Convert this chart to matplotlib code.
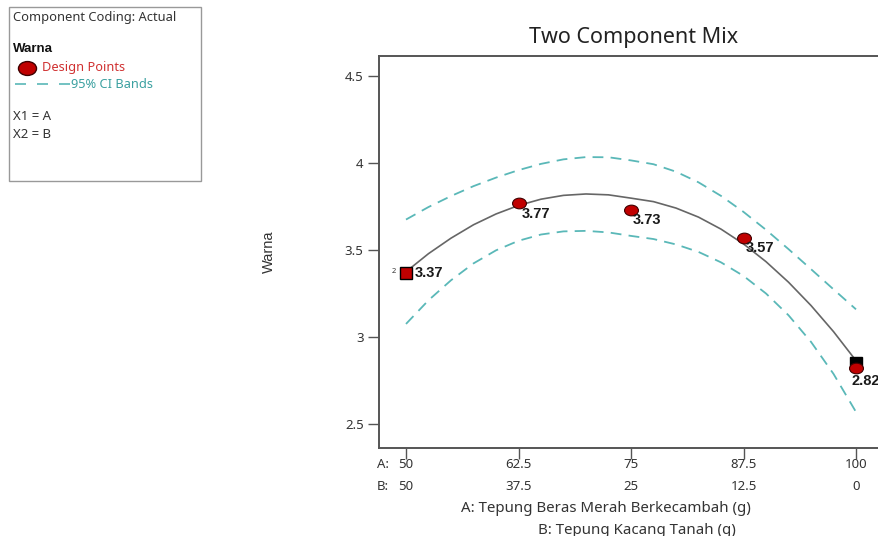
import numpy as np
import matplotlib
matplotlib.use("Agg")
import matplotlib.pyplot as plt
from matplotlib.path import Path
from matplotlib.transforms import Affine2D, blended_transform_factory
from matplotlib.patches import Rectangle

plt.rcParams['font.family'] = ['Noto Sans', 'DejaVu Sans']

# design points (A = Tepung Beras Merah Berkecambah, g)
pts_a = [50, 62.5, 75, 87.5, 100]
pts_y = [3.37, 3.77, 3.73, 3.57, 2.82]
pts_lbl = ["3.37", "3.77", "3.73", "3.57", "2.82"]
pred_100 = 2.852

# fitted curve and 95% CI bands, A = 50..100 step 2.5
curve_a = [50, 52.5, 55, 57.5, 60, 62.5, 65, 67.5, 70, 72.5, 75,
           77.5, 80, 82.5, 85, 87.5, 90, 92.5, 95, 97.5, 100]
fit_y = [3.375, 3.479, 3.568, 3.645, 3.707, 3.756, 3.792, 3.814, 3.822, 3.817, 3.798,
         3.778, 3.741, 3.689, 3.620, 3.535, 3.433, 3.315, 3.181, 3.031, 2.864]
ci_hi = [3.675, 3.747, 3.810, 3.867, 3.916, 3.959, 3.995, 4.021, 4.034, 4.033, 4.015,
         3.993, 3.950, 3.889, 3.811, 3.719, 3.616, 3.505, 3.390, 3.274, 3.159]
ci_lo = [3.075, 3.211, 3.326, 3.423, 3.498, 3.553, 3.589, 3.607, 3.610, 3.601, 3.581,
         3.563, 3.532, 3.489, 3.429, 3.351, 3.250, 3.125, 2.972, 2.788, 2.569]

tick_a = [50, 62.5, 75, 87.5, 100]
tick_b = [50, 37.5, 25, 12.5, 0]
yticks = [2.5, 3, 3.5, 4, 4.5]

red = "#c00000"
teal = "#5ab8b8"
txt = "#333333"

ellipse = Path.unit_circle().transformed(Affine2D().scale(1.3, 1.0))

fig = plt.figure(figsize=(8.79, 5.36), dpi=100)
ax = fig.add_axes([379/879, 88/536, 511/879, 392/536])
ax.set_xlim(47, 47 + 511/9)
ax.set_ylim(2.362, 4.615)

ax.plot(curve_a, fit_y, color="#666666", lw=1.2, zorder=2)
ax.plot(curve_a, ci_hi, color=teal, lw=1.3, ls=(0, (6, 4)), zorder=2)
ax.plot(curve_a, ci_lo, color=teal, lw=1.3, ls=(0, (6, 4)), zorder=2)

ax.plot([100], [pred_100], marker="s", color="black", ms=8, ls="none", zorder=3)
ax.plot([50], [pts_y[0]], marker="s", mfc=red, mec="black", mew=1, ms=8, ls="none", zorder=4)
ax.plot(pts_a[1:], pts_y[1:], marker=ellipse, mfc=red, mec="#400000", mew=0.8, ms=10,
        ls="none", zorder=4)

offsets = [(6.5, 0), (2, -8), (1, -7.5), (1.5, -7.5), (-3.5, -9)]
for a, y, s, off in zip(pts_a, pts_y, pts_lbl, offsets):
    ax.annotate(s, (a, y), xytext=off, textcoords="offset points", ha="left", va="center",
                fontsize=10.5, fontweight="bold", color="#1a1a1a",
                family=["Liberation Sans", "DejaVu Sans"], zorder=5)
ax.annotate("2", (50, pts_y[0]), xytext=(-9, 0.5), textcoords="offset points",
            ha="center", va="center", fontsize=5.5, color=txt)

for side in ["top", "left", "bottom"]:
    ax.spines[side].set_color("#555555")
    ax.spines[side].set_linewidth(1.4)
ax.spines["right"].set_visible(False)

ax.set_yticks(yticks)
ax.set_yticklabels(["2.5", "3", "3.5", "4", "4.5"])
ax.tick_params(axis="y", length=8, width=1, color="#555555", labelsize=9.5, labelcolor=txt, pad=3)
ax.set_xticks(tick_a)
ax.set_xticklabels([])
ax.tick_params(axis="x", length=8, width=1, color="#555555")

tr = blended_transform_factory(ax.transData, fig.transFigure)
for a, b in zip(tick_a, tick_b):
    ax.text(a, 1 - 465/536, f"{a:g}", transform=tr, ha="center", va="center",
            fontsize=9.5, color=txt)
    ax.text(a, 1 - 487/536, f"{b:g}", transform=tr, ha="center", va="center",
            fontsize=9.5, color=txt)
fig.text(377/879, 1 - 465/536, "A:", ha="left", va="center", fontsize=9.5, color=txt)
fig.text(377/879, 1 - 487/536, "B:", ha="left", va="center", fontsize=9.5, color=txt)

fig.text(606/879, 1 - 508/536, "A: Tepung Beras Merah Berkecambah (g)", ha="center",
         va="center", fontsize=10.8, color=txt)
fig.text(637/879, 1 - 530/536, "B: Tepung Kacang Tanah (g)", ha="center",
         va="center", fontsize=10.8, color=txt)
fig.text(634/879, 1 - 37/536, "Two Component Mix", ha="center", va="center",
         fontsize=15.5, color="#222222")
fig.text(269/879, 1 - 252/536, "Warna", ha="center", va="center", rotation=90,
         fontsize=10.5, color=txt, family=["Liberation Sans", "DejaVu Sans"])

# legend box
fig.patches.append(Rectangle((9/879, 1 - 181/536), 192/879, 174/536,
                             transform=fig.transFigure, fill=False, ec="#999999", lw=1))
fig.text(13/879, 1 - 17/536, "Component Coding: Actual", ha="left", va="center",
         fontsize=9.3, color=txt)
fig.text(13/879, 1 - 49/536, "Warna", ha="left", va="center", fontsize=9.5,
         fontweight="bold", color="#111111", family=["Liberation Sans", "DejaVu Sans"])
fig.lines.append(plt.Line2D([27/879], [1 - 68/536], transform=fig.transFigure,
                            marker=ellipse, mfc=red, mec="#400000", ms=13, ls="none"))
fig.text(42/879, 1 - 68/536, "Design Points", ha="left", va="center", fontsize=9.2,
         color="#d03030")
fig.lines.append(plt.Line2D([15/879, 70/879], [1 - 84/536, 1 - 84/536],
                            transform=fig.transFigure, color=teal, lw=1.2,
                            ls=(0, (6.6, 6.6))))
fig.text(71/879, 1 - 84/536, "95% CI Bands", ha="left", va="center", fontsize=9.2,
         color="#3aa0a0")
fig.text(13/879, 1 - 117/536, "X1 = A", ha="left", va="center", fontsize=9.5, color=txt)
fig.text(13/879, 1 - 134/536, "X2 = B", ha="left", va="center", fontsize=9.5, color=txt)

fig.savefig("out.png", dpi=100)
